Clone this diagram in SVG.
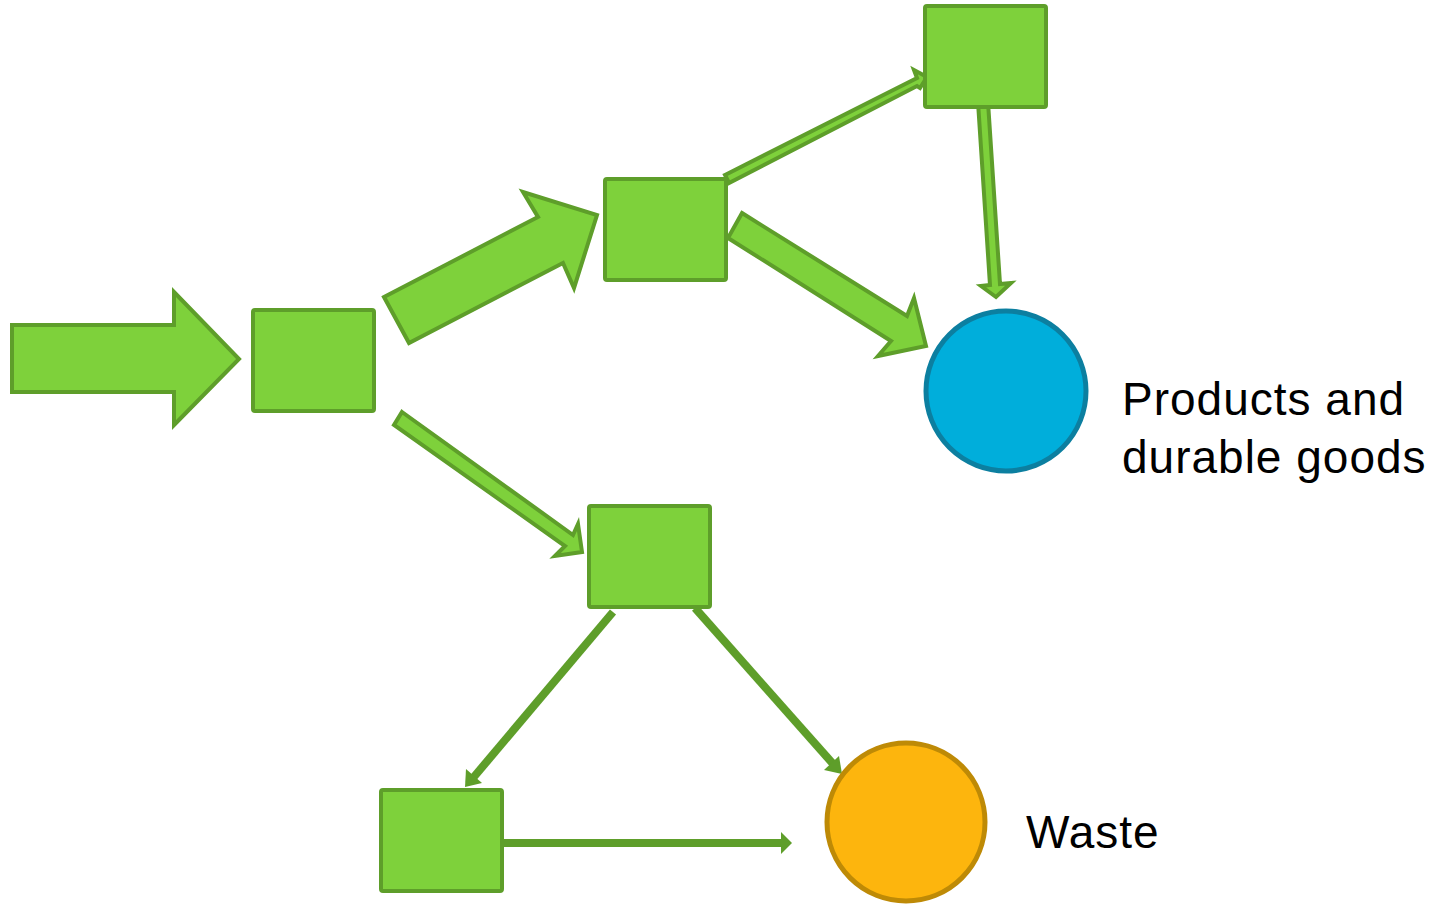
<svg xmlns="http://www.w3.org/2000/svg" width="1437" height="906" viewBox="0 0 1437 906">
  <style>
    .box { fill: #7ED13B; stroke: #5E9E2A; stroke-width: 4; }
    .fat { fill: #7ED13B; stroke: #5E9E2A; stroke-width: 4; stroke-linejoin: miter; }
    .line { stroke: #5E9E2A; stroke-width: 8; fill: none; }
    .head { fill: #5E9E2A; }
    .label { font-family: "Liberation Sans", Arial, sans-serif; font-size: 46px; letter-spacing: 1px; fill: #000; }
  </style>
  <rect width="1437" height="906" fill="#ffffff"/>

  <g id="connectors">
    <!-- block arrows -->
    <polygon class="fat" points="12,325 174,325 174,292 239,359 174,425 174,392 12,392"/>
    <polygon class="fat" points="384,297 538,217 523,192 597,215 574,288 563,263 409,343"/>
    <polygon class="fat" points="742,213 907,316 914,298 926,346 878,356 891,341 728,238"/>
    <polygon class="fat" points="402,412 573,535 578,524 582,552 555,556 565,546 394,425"/>
    <polygon class="fat" points="725,175 917,78 914,70 927,77 920,88 917,86 729,183"/>
    <polygon class="fat" points="978,102 988,102 1000,284 1011,283 996,297 981,286 990,285"/>
    <!-- plain line arrows -->
    <line class="line" x1="613" y1="612" x2="473" y2="778"/>
    <polygon class="head" points="465,787 466,769 482,783"/>
    <line class="line" x1="695" y1="608" x2="834" y2="765"/>
    <polygon class="head" points="842,774 824,770 839,756"/>
    <line class="line" x1="502" y1="843" x2="783" y2="843"/>
    <polygon class="head" points="792,843 781,832 781,854"/>
  </g>

  <g id="node-source"><rect class="box" x="253" y="310" width="121" height="101" rx="2"/></g>
  <g id="node-upper"><rect class="box" x="605" y="179" width="121" height="101" rx="2"/></g>
  <g id="node-top"><rect class="box" x="925" y="6" width="121" height="101" rx="2"/></g>
  <g id="node-middle"><rect class="box" x="589" y="506" width="121" height="101" rx="2"/></g>
  <g id="node-bottom"><rect class="box" x="381" y="790" width="121" height="101" rx="2"/></g>

  <g id="node-products">
    <circle cx="1006" cy="391" r="80" fill="#00AEDB" stroke="#0C7FA0" stroke-width="5"/>
    <text class="label" x="1122" y="415">Products and</text>
    <text class="label" x="1122" y="473">durable goods</text>
  </g>

  <g id="node-waste">
    <circle cx="906" cy="822" r="79" fill="#FDB50D" stroke="#BE8A06" stroke-width="5"/>
    <text class="label" x="1026" y="848">Waste</text>
  </g>
</svg>
